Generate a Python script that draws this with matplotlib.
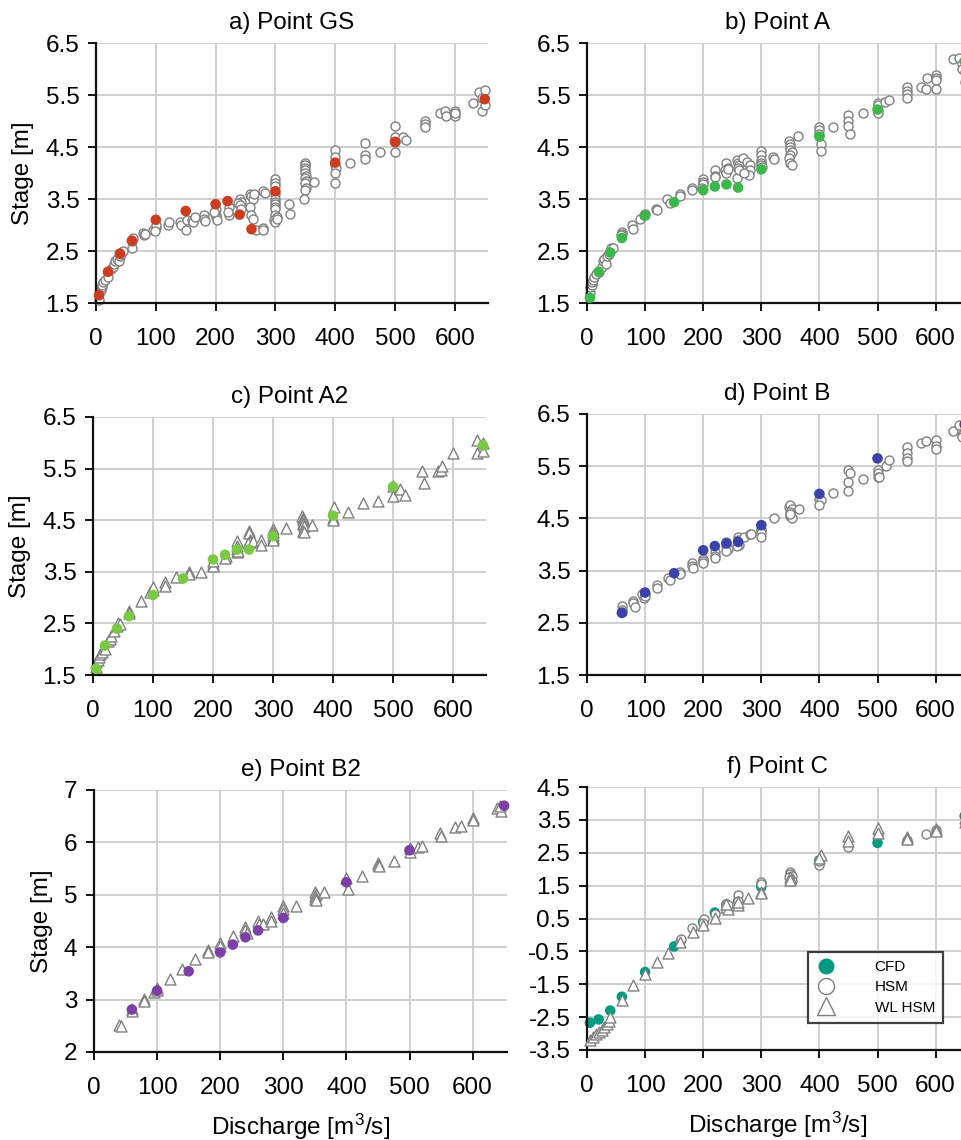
import matplotlib
matplotlib.use("Agg")
import matplotlib.pyplot as plt
from matplotlib.lines import Line2D

plt.rcParams['font.family'] = ['Liberation Sans', 'DejaVu Sans']
plt.rcParams['mathtext.fontset'] = 'custom'
plt.rcParams['mathtext.rm'] = 'Liberation Sans'
plt.rcParams['mathtext.default'] = 'regular'

# ---------------- data ----------------
cfd_q = [5, 20, 40, 60, 100, 150, 200, 220, 240, 260, 300, 400, 500, 650]
cfd_q_b = [60, 100, 150, 200, 220, 240, 260, 300, 400, 500, 650]

# a) Point GS
gs_cfd_h = [1.65, 2.1, 2.45, 2.7, 3.1, 3.27, 3.4, 3.46, 3.2, 2.92, 3.65, 4.2, 4.6, 5.42]
gs_hsm_q = [5, 5, 8, 10, 10, 12, 15, 20, 25, 28, 30, 32, 35, 38, 40, 42, 45,
            60, 60, 62, 78, 80, 82, 95, 100, 100, 98, 120, 122, 140, 142, 150, 152,
            160, 162, 165, 180, 180, 182, 200, 200, 200, 202, 198, 222, 222, 220,
            240, 242, 238, 240, 242, 258, 260, 262, 258, 260, 262,
            265, 268, 280, 280, 280, 282,
            300, 300, 300, 300, 300, 300, 300, 300, 300, 300, 302, 298, 300, 302,
            322, 325,
            350, 350, 350, 350, 350, 352, 350, 352, 350, 352, 350, 348, 364,
            400, 400, 400, 402, 400, 400, 425, 450, 450, 450, 475,
            500, 500, 500, 500, 513, 518, 550, 550, 550, 575, 583, 585,
            600, 600, 600, 630, 640, 645, 645, 650, 650]
gs_hsm_h = [1.55, 1.7, 1.75, 1.8, 1.85, 1.9, 1.95, 2.0, 2.15, 2.2, 2.25, 2.3, 2.35, 2.3, 2.4, 2.45, 2.5,
            2.55, 2.7, 2.75, 2.85, 2.8, 2.83, 2.9, 2.95, 3.0, 2.88, 3.0, 3.05, 3.05, 3.0, 2.9, 3.1,
            3.1, 3.05, 3.15, 3.2, 3.12, 3.08, 3.3, 3.2, 3.15, 3.1, 3.25, 3.35, 3.2, 3.25,
            3.5, 3.45, 3.42, 3.38, 3.3, 3.6, 3.55, 3.5, 3.35, 3.2, 3.12,
            3.6, 2.9, 2.95, 2.9, 3.65, 3.62,
            3.88, 3.8, 3.75, 3.6, 3.5, 3.45, 3.4, 3.35, 3.3, 3.2, 3.15, 3.1, 3.05, 3.12,
            3.4, 3.22,
            4.2, 4.15, 4.1, 4.05, 4.0, 3.95, 3.9, 3.85, 3.8, 3.72, 3.68, 3.5, 3.83,
            4.45, 4.3, 4.15, 4.1, 4.0, 3.8, 4.2, 4.57, 4.35, 4.27, 4.4,
            4.9, 4.7, 4.4, 4.6, 4.7, 4.63, 5.0, 4.95, 4.88, 5.15, 5.2, 5.1,
            5.2, 5.1, 5.15, 5.35, 5.55, 5.45, 5.2, 5.3, 5.6]

# b) Point A
a_cfd_h = [1.6, 2.1, 2.47, 2.75, 3.18, 3.44, 3.67, 3.74, 3.78, 3.72, 4.07, 4.7, 5.22, 6.15]
a_hsm_q = [5, 5, 8, 8, 10, 12, 15, 20, 25, 28, 30, 32, 35, 38, 40, 42, 45,
           60, 60, 58, 78, 80, 92, 98, 100, 119, 120, 138, 142, 160, 160, 180, 180,
           200, 200, 200, 198, 220, 220, 220, 240, 242, 238, 240, 242,
           258, 260, 262, 260, 258, 262, 268, 275, 280, 280, 278, 270,
           300, 300, 300, 300, 300, 302, 320, 322,
           348, 350, 350, 350, 352, 350, 348, 350, 352, 364,
           400, 400, 400, 402, 402, 423, 450, 450, 450, 452, 475,
           500, 500, 500, 500, 513, 520, 550, 550, 550, 550, 575, 585, 583,
           600, 600, 600, 600, 630, 640, 645, 645, 650, 650]
a_hsm_h = [1.7, 1.8, 1.85, 1.9, 1.95, 2.0, 2.05, 2.1, 2.2, 2.3, 2.35, 2.25, 2.4, 2.45, 2.5, 2.55, 2.55,
           2.87, 2.83, 2.8, 3.0, 2.92, 3.12, 3.2, 3.22, 3.3, 3.28, 3.5, 3.42, 3.6, 3.55, 3.72, 3.67,
           3.88, 3.82, 3.78, 3.72, 4.05, 3.95, 3.92, 4.2, 4.1, 4.05, 4.0, 4.07,
           4.25, 4.2, 4.15, 4.1, 3.9, 4.05, 4.28, 4.22, 4.15, 4.05, 3.97, 4.0,
           4.42, 4.35, 4.25, 4.2, 4.15, 4.12, 4.3, 4.27,
           4.62, 4.55, 4.5, 4.45, 4.4, 4.35, 4.28, 4.2, 4.15, 4.72,
           4.88, 4.82, 4.75, 4.55, 4.43, 4.88, 5.12, 5.0, 4.9, 4.75, 5.15,
           5.35, 5.3, 5.22, 5.15, 5.37, 5.4, 5.65, 5.58, 5.52, 5.45, 5.65, 5.82, 5.62,
           5.88, 5.82, 5.78, 5.62, 6.2, 6.22, 6.1, 6.0, 5.95, 5.75]

# c) Point A2
a2_cfd_h = [1.62, 2.07, 2.4, 2.64, 3.05, 3.37, 3.74, 3.83, 3.93, 3.93, 4.19, 4.59, 5.15, 5.95]
a2_wl_q = [5, 5, 8, 10, 12, 15, 20, 25, 28, 30, 35, 40, 42, 45,
           60, 60, 80, 95, 100, 100, 120, 120, 139, 160, 160, 180,
           200, 200, 200, 222, 220, 240, 240, 240, 240, 242,
           260, 260, 262, 262, 258, 266, 280, 280,
           300, 300, 300, 300, 300, 322,
           348, 350, 350, 350, 350, 352, 350, 352, 365,
           402, 400, 400, 425, 450, 475, 500, 500, 512, 520,
           548, 552, 575, 580, 582, 600, 640, 640, 650, 650]
a2_wl_h = [1.65, 1.75, 1.8, 1.85, 1.9, 1.95, 2.0, 2.15, 2.2, 2.25, 2.35, 2.45, 2.5, 2.48,
           2.75, 2.7, 2.93, 3.1, 3.15, 3.2, 3.3, 3.22, 3.4, 3.5, 3.45, 3.5,
           3.65, 3.62, 3.7, 3.8, 3.77, 4.1, 4.0, 3.95, 3.88, 3.9,
           4.3, 4.25, 4.12, 4.08, 4.05, 4.1, 4.12, 4.02,
           4.32, 4.28, 4.22, 4.15, 4.12, 4.35,
           4.58, 4.55, 4.5, 4.45, 4.42, 4.38, 4.3, 4.28, 4.4,
           4.75, 4.55, 4.5, 4.65, 4.83, 4.88, 5.17, 4.97, 5.1, 4.98,
           5.45, 5.22, 5.45, 5.48, 5.55, 5.8, 6.05, 5.8, 5.85, 6.0]

# d) Point B
b_cfd_h = [2.69, 3.08, 3.45, 3.89, 3.97, 4.02, 4.05, 4.37, 4.97, 5.65, 6.3]
b_hsm_q = [60, 60, 60, 80, 80, 82, 95, 98, 100, 100, 120, 120, 140, 142, 160, 160,
           180, 180, 182, 200, 200, 200, 220, 220, 220, 240, 240, 242, 240,
           260, 260, 262, 258, 270, 280, 282, 300, 300, 300, 300, 322,
           348, 350, 352, 350, 350, 352, 350, 365,
           400, 402, 400, 424, 450, 452, 450, 450, 475,
           500, 500, 500, 502, 515, 520, 550, 550, 550, 550, 575, 583,
           600, 600, 600, 630, 640, 645, 650, 645]
b_hsm_h = [2.83, 2.75, 2.7, 2.92, 2.88, 2.8, 3.05, 2.98, 3.05, 3.02, 3.22, 3.17, 3.35, 3.32, 3.48, 3.43,
           3.65, 3.58, 3.55, 3.72, 3.68, 3.65, 3.85, 3.78, 3.75, 4.05, 3.98, 3.92, 3.88,
           4.15, 4.08, 4.0, 3.98, 4.15, 4.2, 4.2, 4.3, 4.27, 4.22, 4.15, 4.5,
           4.72, 4.75, 4.68, 4.62, 4.55, 4.5, 4.58, 4.68,
           4.88, 4.85, 4.75, 4.98, 5.42, 5.37, 5.2, 5.02, 5.25,
           5.42, 5.37, 5.3, 5.3, 5.5, 5.62, 5.87, 5.75, 5.65, 5.6, 5.95, 5.98,
           6.0, 5.88, 5.82, 6.18, 6.28, 6.1, 6.2, 6.05]

# e) Point B2
b2_cfd_h = [2.81, 3.17, 3.54, 3.9, 4.05, 4.19, 4.32, 4.56, 5.24, 5.85, 6.7]
b2_wl_q = [40, 42, 60, 60, 80, 79, 95, 100, 100, 120, 139, 160, 180, 180,
           200, 200, 220, 240, 240, 242, 260, 262, 268, 280, 280,
           300, 300, 300, 320, 350, 352, 350, 350, 352, 365,
           400, 402, 424, 450, 450, 452, 475, 500, 500, 513, 520,
           548, 550, 572, 582, 600, 600, 638, 645, 643]
b2_wl_h = [2.52, 2.5, 2.82, 2.78, 3.02, 2.98, 3.15, 3.22, 3.18, 3.4, 3.58, 3.77, 3.95, 3.9,
           4.08, 4.02, 4.22, 4.38, 4.32, 4.28, 4.5, 4.45, 4.45, 4.58, 4.5,
           4.78, 4.72, 4.65, 4.78, 5.05, 5.02, 4.98, 4.92, 4.9, 5.05,
           5.32, 5.12, 5.35, 5.6, 5.57, 5.55, 5.65, 5.9, 5.82, 5.92, 5.93,
           6.18, 6.12, 6.3, 6.32, 6.47, 6.42, 6.65, 6.6, 6.7]

# f) Point C
c_cfd_h = [-2.67, -2.57, -2.3, -1.88, -1.13, -0.35, 0.39, 0.68, 0.93, 1.02, 1.46, 2.27, 2.8, 3.62]
c_hsm_q = [160, 162, 180, 202, 200, 220, 240, 240, 242, 260, 260, 300, 300,
           350, 350, 352, 350, 352, 348, 400, 400, 450, 500, 550, 583, 600, 650]
c_hsm_h = [-0.18, -0.12, 0.2, 0.48, 0.35, 0.65, 0.95, 0.88, 0.92, 1.22, 1.02, 1.62, 1.55,
           1.9, 1.85, 1.78, 1.7, 1.65, 1.75, 2.12, 2.25, 2.67, 3.08, 2.88, 3.06, 3.18, 3.4]
c_wl_q = [5, 10, 15, 20, 25, 30, 35, 38, 40, 60, 79, 100, 120, 139, 160, 182,
          200, 220, 240, 242, 240, 260, 260, 277, 300, 300, 350, 350,
          402, 400, 450, 450, 500, 500, 550, 550, 600, 600, 650, 650]
c_wl_h = [-3.2, -3.1, -3.0, -2.95, -2.88, -2.8, -2.72, -2.62, -2.5, -1.97, -1.53, -1.2, -0.83, -0.55, -0.22, 0.08,
          0.3, 0.53, 0.85, 0.8, 0.95, 0.92, 1.0, 1.12, 1.32, 1.28, 1.75, 1.68,
          2.42, 2.35, 3.0, 2.85, 3.25, 3.1, 2.98, 2.92, 3.22, 3.15, 3.55, 3.45]

col_gs = '#CC3D1F'
col_a = '#3CB84A'
col_a2 = '#7AC943'
col_b = '#3B43AA'
col_b2 = '#7B3FA6'
col_c = '#009B80'
grey = '#808080'

# ---------------- layout ----------------
W, H = 961, 1140
fig = plt.figure(figsize=(W / 100, H / 100), dpi=100)


def add_axes(x0, x1, ytop, ybot):
    return fig.add_axes([x0 / W, 1 - ybot / H, (x1 - x0) / W, (ybot - ytop) / H])


XMAX = 655


def style(ax, title, ylim, yticks, ylabel=False, xlabel=False):
    ax.set_xlim(0, XMAX)
    ax.set_ylim(*ylim)
    ax.set_xticks(range(0, 601, 100))
    ax.set_yticks(yticks)
    ax.set_yticklabels([f'{t:g}' if float(t).is_integer() and ylim[1] == 7 else f'{t:.1f}' for t in yticks])
    for s in ('top', 'right'):
        ax.spines[s].set_visible(False)
    for s in ('left', 'bottom'):
        ax.spines[s].set_linewidth(1.6)
        ax.spines[s].set_color('#111111')
    ax.grid(True, color='#cfcfcf', linewidth=1.4, zorder=0)
    ax.set_axisbelow(True)
    ax.tick_params(axis='both', direction='out', length=6, width=1.4,
                   labelsize=17.5, color='#111111')
    ax.tick_params(axis='x', pad=12)
    ax.tick_params(axis='y', pad=6)
    ax.set_title(title, fontsize=17.5, pad=10)
    if ylabel:
        ax.set_ylabel('Stage [m]', fontsize=17.5, labelpad=8)
    if xlabel:
        ax.set_xlabel(r'Discharge [m$^{3}$/s]', fontsize=17.5, labelpad=9)


def hollow(ax, q, h, marker='o', size=42, z=2):
    ax.scatter(q, h, s=size, marker=marker, facecolors='white', edgecolors=grey,
               linewidths=1.0, zorder=z, clip_on=False)


def filled(ax, q, h, color, z=3):
    ax.scatter(q, h, s=58, marker='o', color=color, edgecolors='none',
               zorder=z, clip_on=False)


yt_std = [1.5, 2.5, 3.5, 4.5, 5.5, 6.5]
TRI = 62

# a) Point GS
ax_a = add_axes(96, 96 + XMAX * 0.598, 43, 303)
style(ax_a, 'a) Point GS', (1.5, 6.5), yt_std, ylabel=True)
hollow(ax_a, gs_hsm_q, gs_hsm_h)
filled(ax_a, cfd_q, gs_cfd_h, col_gs)

# b) Point A
ax_b = add_axes(587, 587 + XMAX * 0.581, 43, 303)
style(ax_b, 'b) Point A', (1.5, 6.5), yt_std)
hollow(ax_b, a_hsm_q, a_hsm_h)
filled(ax_b, cfd_q, a_cfd_h, col_a)

# c) Point A2
ax_c = add_axes(93, 93 + XMAX * 0.600, 417, 675)
style(ax_c, 'c) Point A2', (1.5, 6.5), yt_std, ylabel=True)
hollow(ax_c, a2_wl_q, a2_wl_h, marker='^', size=TRI)
filled(ax_c, cfd_q, a2_cfd_h, col_a2)

# d) Point B
ax_d = add_axes(587, 587 + XMAX * 0.581, 414, 675)
style(ax_d, 'd) Point B', (1.5, 6.5), yt_std)
hollow(ax_d, b_hsm_q, b_hsm_h)
filled(ax_d, cfd_q_b, b_cfd_h, col_b)

# e) Point B2
ax_e = add_axes(94, 94 + XMAX * 0.631, 790, 1052)
style(ax_e, 'e) Point B2', (2, 7), [2, 3, 4, 5, 6, 7], ylabel=True, xlabel=True)
hollow(ax_e, b2_wl_q, b2_wl_h, marker='^', size=TRI)
filled(ax_e, cfd_q_b, b2_cfd_h, col_b2)

# f) Point C
ax_f = add_axes(587, 587 + XMAX * 0.581, 787, 1050)
style(ax_f, 'f) Point C', (-3.5, 4.5), [-3.5, -2.5, -1.5, -0.5, 0.5, 1.5, 2.5, 3.5, 4.5],
      xlabel=True)
filled(ax_f, cfd_q, c_cfd_h, col_c, z=2)
hollow(ax_f, c_hsm_q, c_hsm_h, z=3)
hollow(ax_f, c_wl_q, c_wl_h, marker='^', size=TRI, z=4)

handles = [
    Line2D([], [], linestyle='none', marker='o', markersize=11.5,
           markerfacecolor=col_c, markeredgecolor='none'),
    Line2D([], [], linestyle='none', marker='o', markersize=11.5,
           markerfacecolor='white', markeredgecolor=grey, markeredgewidth=1.0),
    Line2D([], [], linestyle='none', marker='^', markersize=12.5,
           markerfacecolor='white', markeredgecolor=grey, markeredgewidth=1.0),
]
leg = ax_f.legend(handles, ['CFD', 'HSM', 'WL HSM'], loc='lower left',
                  bbox_to_anchor=(0.581, 0.103), fontsize=11, frameon=True,
                  fancybox=False, borderpad=0.55, labelspacing=0.4,
                  handletextpad=2.6, handlelength=1.2, borderaxespad=0)
leg.get_frame().set_edgecolor('#111111')
leg.get_frame().set_linewidth(1.6)
leg.set_zorder(10)

fig.savefig('out.png', dpi=100)
